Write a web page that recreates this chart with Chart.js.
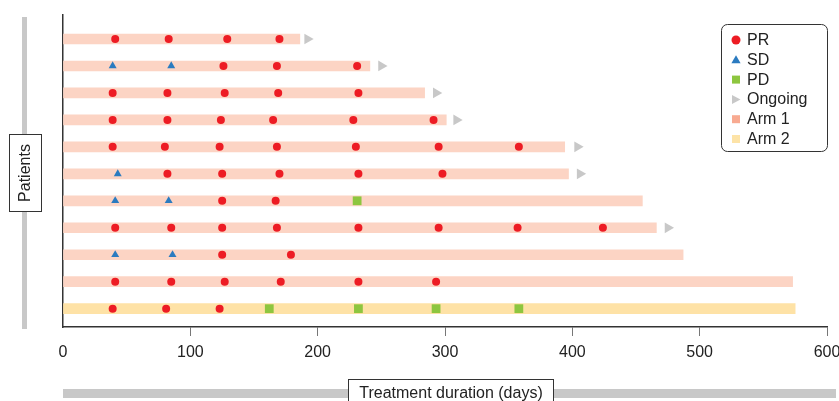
<!DOCTYPE html>
<html><head><meta charset="utf-8">
<script src="https://cdn.jsdelivr.net/npm/chart.js@4.4.0/dist/chart.umd.min.js"></script>
<style>html,body{margin:0;padding:0;background:#fff;}#wrap{width:839px;height:401px;position:relative;}</style>
</head><body><div id="wrap"><canvas id="c" width="839" height="401"></canvas></div>
<script>
// Patients listed top to bottom
const patientRows   = [11, 10, 9, 8, 7, 6, 5, 4, 3, 2, 1];
const patientArm    = [1, 1, 1, 1, 1, 1, 1, 1, 1, 1, 2];
const treatmentDays = [186, 241, 284, 301, 394, 397, 455, 466, 487, 573, 575];
const prDays = [
  [41, 83, 129, 170],
  [126, 168, 231],
  [39, 82, 127, 169, 232],
  [39, 82, 124, 165, 228, 291],
  [39, 80, 123, 168, 230, 295, 358],
  [82, 125, 170, 232, 298],
  [125, 167],
  [41, 85, 125, 168, 232, 295, 357, 424],
  [125, 179],
  [41, 85, 127, 171, 232, 293],
  [39, 81, 123]
];
const sdDays = [[], [39, 85], [], [], [], [43], [41, 83], [], [41, 86], [], []];
const pdDays = [[], [], [], [], [], [], [231], [], [], [], [162, 232, 293, 358]];
const ongoingDays = [192, 250, 293, 309, 404, 406, null, 475, null, null, null];
const xTicks = [0, 100, 200, 300, 400, 500, 600];

const FONT = "'Liberation Sans', Arial, Helvetica, sans-serif";
const C = {arm1:'#fcd4c4', arm2:'#fee2a6', arm1Legend:'#f8aa91', arm2Legend:'#fde3a7',
  pr:'#ed1c24', sd:'#2b7bc0', pd:'#8dc63f', ongoing:'#c8c8c8'};

function pts(list){
  const out = [];
  list.forEach((days, i) => days.forEach(d => out.push({x: d, y: patientRows[i]})));
  return out;
}
const armBars = arm => patientRows.map((r, i) => patientArm[i] === arm ? {x: [0, treatmentDays[i]], y: r} : null).filter(Boolean);
const ongoingPts = ongoingDays.map((d, i) => d == null ? null : {x: d, y: patientRows[i]}).filter(Boolean);

const decoPlugin = {
  id: 'deco',
  afterDraw(chart) {
    const ctx = chart.ctx;
    ctx.save();
    ctx.fillStyle = '#c8c8c8';
    ctx.fillRect(22, 17, 5, 312);
    ctx.fillRect(63, 389, 773, 9);
    ctx.fillStyle = '#fff'; ctx.strokeStyle = '#333'; ctx.lineWidth = 1;
    ctx.fillRect(9.5, 134.5, 32, 77); ctx.strokeRect(9.5, 134.5, 32, 77);
    ctx.fillRect(348.5, 379.5, 205, 30); ctx.strokeRect(348.5, 379.5, 205, 30);
    ctx.fillStyle = '#222'; ctx.font = '16px ' + FONT;
    ctx.textAlign = 'center'; ctx.textBaseline = 'alphabetic';
    ctx.fillText('Treatment duration (days)', 451, 398);
    ctx.translate(25.5, 173); ctx.rotate(-Math.PI / 2);
    ctx.textBaseline = 'middle';
    ctx.fillText('Patients', 0, 0);
    ctx.restore();

    ctx.save();
    ctx.strokeStyle = '#333'; ctx.lineWidth = 1; ctx.fillStyle = '#fff';
    ctx.beginPath(); ctx.roundRect(721.5, 24.5, 106, 127, 6); ctx.fill(); ctx.stroke();
    const items = [
      {label:'PR', kind:'circle', color:C.pr},
      {label:'SD', kind:'triUp', color:C.sd},
      {label:'PD', kind:'square', color:C.pd},
      {label:'Ongoing', kind:'triRight', color:C.ongoing},
      {label:'Arm 1', kind:'square', color:C.arm1Legend},
      {label:'Arm 2', kind:'square', color:C.arm2Legend}
    ];
    ctx.font = '16px ' + FONT; ctx.textBaseline = 'middle'; ctx.textAlign = 'left';
    items.forEach((it, i) => {
      const y = 40 + i * 19.8, x = 736;
      ctx.fillStyle = it.color; ctx.beginPath();
      if (it.kind === 'circle') { ctx.arc(x, y, 4.5, 0, Math.PI * 2); }
      else if (it.kind === 'triUp') { ctx.moveTo(x, y - 4.5); ctx.lineTo(x + 4.6, y + 3.5); ctx.lineTo(x - 4.6, y + 3.5); ctx.closePath(); }
      else if (it.kind === 'triRight') { ctx.moveTo(x + 4.5, y); ctx.lineTo(x - 4, y - 4.5); ctx.lineTo(x - 4, y + 4.5); ctx.closePath(); }
      else { ctx.rect(x - 4, y - 4, 8, 8); }
      ctx.fill();
      ctx.fillStyle = '#222';
      ctx.fillText(it.label, 747, y + 0.5);
    });
    ctx.restore();
  }
};

new Chart(document.getElementById('c'), {
  type: 'bar',
  data: {
    datasets: [
      {type:'scatter', label:'PR', indexAxis:'x', data: pts(prDays), pointStyle:'circle', pointRadius:4, backgroundColor:C.pr, borderWidth:0, order:0},
      {type:'scatter', label:'SD', indexAxis:'x', data: pts(sdDays), pointStyle:'triangle', pointRadius:4.6, backgroundColor:C.sd, borderWidth:0, order:0},
      {type:'scatter', label:'PD', indexAxis:'x', data: pts(pdDays), pointStyle:'rect', pointRadius:6.2, backgroundColor:C.pd, borderWidth:0, order:0},
      {type:'scatter', label:'Ongoing', indexAxis:'x', data: ongoingPts, pointStyle:'triangle', rotation:90, pointRadius:6.2, backgroundColor:C.ongoing, borderWidth:0, order:0},
      {type:'bar', label:'Arm 1', indexAxis:'y', grouped:false, data: armBars(1), backgroundColor:C.arm1, borderWidth:0, barThickness:10, order:2},
      {type:'bar', label:'Arm 2', indexAxis:'y', grouped:false, data: armBars(2), backgroundColor:C.arm2, borderWidth:0, barThickness:10, order:2}
    ]
  },
  options: {
    responsive: false, animation: false,
    layout: {padding: {top: 15, right: 12, left: 0, bottom: 0}},
    plugins: {legend: {display: false}, tooltip: {enabled: false}},
    scales: {
      x: {
        type: 'linear', position: 'bottom', min: 0, max: 600, offset: false,
        afterBuildTicks: s => { s.ticks = xTicks.map(v => ({value: v})); },
        ticks: {font: {size: 16, family: FONT}, color: '#222', padding: 7, maxRotation: 0, autoSkip: false},
        grid: {offset: false, drawOnChartArea: false, drawTicks: true, tickLength: 9, lineWidth: 1,
               color: c => (c.tick && c.tick.value === 0) ? 'rgba(0,0,0,0)' : '#777'},
        border: {display: true, color: '#333', width: 1.5},
        afterFit: s => { s.height = 74; s.paddingLeft = 0; s.paddingRight = 0; }
      },
      y: {
        type: 'linear', position: 'left', min: 0.32, max: 11.89, offset: false,
        ticks: {display: false},
        grid: {offset: false, display: false, drawTicks: false},
        border: {display: true, color: '#333', width: 1.5},
        afterFit: s => { s.width = 63; s.paddingTop = 0; s.paddingBottom = 0; }
      }
    }
  },
  plugins: [decoPlugin]
});
</script>
</body></html>
